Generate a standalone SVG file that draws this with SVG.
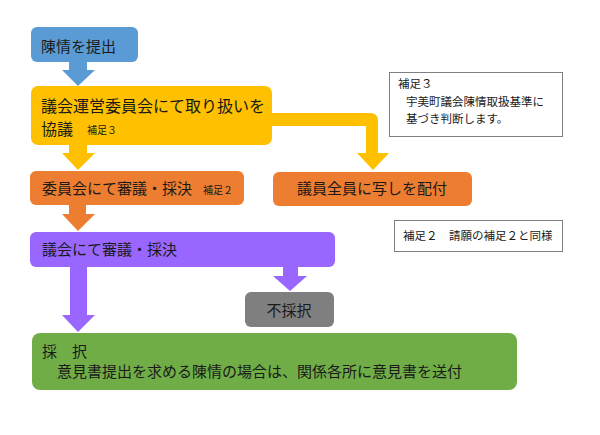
<svg xmlns="http://www.w3.org/2000/svg" width="600" height="435" viewBox="0 0 600 435">
<style>
text{font-family:"Noto Sans CJK JP","Noto Sans",sans-serif;fill:#1a1a1a}
.t{font-size:15px}
.s{font-size:10px}
.n{font-size:11.5px}
.note{fill:#fff;stroke:#808080;stroke-width:1}
</style>
<rect width="600" height="435" fill="#fff"/>
<g id="connectors">
<path d="M69,61 H87 V70 H95 L78,86 L62,70 H69 Z" fill="#5B9BD5"/>
<path d="M69,144 H87 V153 H95 L78,170 L62,153 H69 Z" fill="#FFC000"/>
<path d="M270,113 H370 Q378,113 378,121 V153 H389 L373,170 L357,153 H366 V126 H270 Z" fill="#FFC000"/>
<path d="M69,204 H86 V214 H95 L78,231 L62,214 H69 Z" fill="#ED7D31"/>
<path d="M283,266 H298 V276 H307 L290,291 L273,276 H283 Z" fill="#9966FF"/>
<path d="M70,266 H87 V315 H95 L78,332 L62,315 H70 Z" fill="#9966FF"/>
</g>
<g id="n1"><rect x="31" y="27" width="107" height="35" rx="6" fill="#5B9BD5"/><text class="t" x="41" y="52">陳情を提出</text></g>
<g id="n2"><rect x="31" y="86" width="241" height="59" rx="7" fill="#FFC000"/><text x="41" y="112" style="font-size:16px">議会運営委員会にて取り扱いを</text><text x="41" y="135" style="font-size:16px">協議</text><text class="s" x="87" y="134">補足３</text></g>
<g id="n3"><rect x="30" y="171" width="214" height="34" rx="6" fill="#ED7D31"/><text class="t" x="42" y="194">委員会にて審議・採決</text><text class="s" x="203" y="194">補足２</text></g>
<g id="n4"><rect x="273" y="172" width="199" height="34" rx="6" fill="#ED7D31"/><text class="t" x="372" y="194" text-anchor="middle">議員全員に写しを配付</text></g>
<g id="n5"><rect x="30" y="232" width="305" height="35" rx="6" fill="#9966FF"/><text class="t" x="42" y="255">議会にて審議・採決</text></g>
<g id="n6"><rect x="245" y="292" width="89" height="35" rx="6" fill="#7F7F7F"/><text class="t" x="289" y="316" text-anchor="middle">不採択</text></g>
<g id="n7"><rect x="32" y="333" width="485" height="57" rx="8" fill="#70AD47"/><text class="t" x="42" y="357">採　択</text><text class="t" x="57" y="377">意見書提出を求める陳情の場合は、関係各所に意見書を送付</text></g>
<g id="note3"><rect class="note" x="389.5" y="72.5" width="173" height="64"/><text class="n" x="398" y="88">補足３</text><text class="n" x="406" y="106">宇美町議会陳情取扱基準に</text><text class="n" x="406" y="123">基づき判断します。</text></g>
<g id="note2"><rect class="note" x="394.5" y="220.5" width="168" height="31"/><text class="n" x="403" y="240">補足２　請願の補足２と同様</text></g>
</svg>
